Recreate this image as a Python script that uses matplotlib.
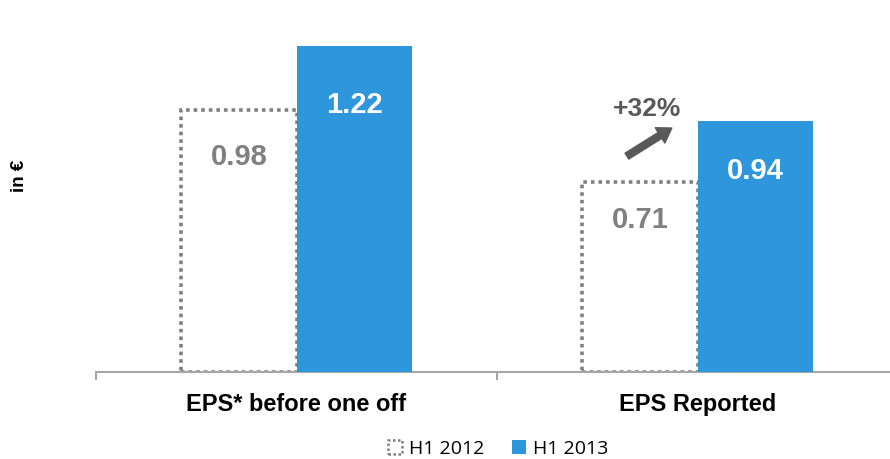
import matplotlib
matplotlib.use("Agg")
import matplotlib.pyplot as plt
from matplotlib.patches import Patch

# Data
categories = ["EPS* before one off", "EPS Reported"]
series_names = ["H1 2012", "H1 2013"]
h1_2012 = [0.98, 0.71]
h1_2013 = [1.22, 0.94]
growth_label = "+32%"

blue = "#2E97DB"
grey = "#808080"
dark = "#595959"

plt.rcParams['font.family'] = ['Liberation Sans', 'DejaVu Sans']

fig = plt.figure(figsize=(8.9, 4.59), dpi=100)
ax = fig.add_axes([96 / 890, 87 / 459, 802 / 890, 372 / 459])

x = range(len(categories))
w = 0.287
label_frac = [0.82, 0.80]  # where value labels sit inside each group

for i in x:
    # dotted outline bar (H1 2012)
    ax.bar(i - w / 2, h1_2012[i], width=w, facecolor="none", edgecolor=grey,
           linewidth=2.6, linestyle=(0, (1, 1.1)), zorder=2)
    ax.bar(i + w / 2, h1_2013[i], width=w, color=blue, zorder=3)
    ax.text(i - w / 2, h1_2012[i] * label_frac[i], f"{h1_2012[i]:.2f}", ha="center", va="center",
            fontsize=21, fontweight="bold", color=grey)
    ax.text(i + w / 2, h1_2013[i] * label_frac[i], f"{h1_2013[i]:.2f}", ha="center", va="center",
            fontsize=21, fontweight="bold", color="white", zorder=4)

# growth arrow
ax.annotate("", xy=(0.936, 0.913), xytext=(0.824, 0.808),
            arrowprops=dict(width=5, headwidth=13, headlength=10, color=dark, shrink=0))
ax.text(0.874, 0.985, growth_label, ha="center", va="center", fontsize=19,
        fontweight="bold", color=dark)

ax.set_xlim(-0.5, 1.5)
ax.set_ylim(0, 372 / 267.2)

for s in ["top", "right", "left"]:
    ax.spines[s].set_visible(False)
ax.spines["bottom"].set_color("#a6a6a6")
ax.spines["bottom"].set_linewidth(1.5)
ax.set_yticks([])
ax.set_xticks(list(x))
ax.set_xticklabels(categories, fontsize=17, fontweight="bold")
ax.tick_params(axis="x", which="major", length=0, pad=15)
ax.set_xticks([-0.5, 0.5, 1.5], minor=True)
ax.tick_params(axis="x", which="minor", length=6, width=1.5, color="#a6a6a6", direction="out")

fig.text(20 / 890, 1 - 176 / 459, "in €", rotation=90, ha="center", va="center",
         fontsize=13.5, fontweight="bold")

handles = [Patch(facecolor="none", edgecolor=grey, linestyle=(0, (1, 1)), linewidth=1.8),
           Patch(facecolor=blue)]
fig.legend(handles, series_names, loc="center", bbox_to_anchor=(498 / 890, 1 - 449 / 459),
           ncol=2, frameon=False, prop={"family": "Open Sans", "size": 14},
           handlelength=0.75, handleheight=0.75, handletextpad=0.35, columnspacing=1.4)

fig.savefig("out.png", dpi=100)
